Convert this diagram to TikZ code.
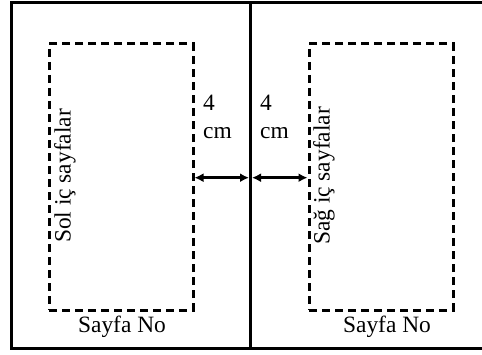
\documentclass[tikz,border=0pt]{standalone}
\usepackage{fontspec}
\setmainfont{Liberation Serif}
\usetikzlibrary{arrows.meta}
\begin{document}
\begin{tikzpicture}[x=1bp,y=1bp,
 lbl/.style={font=\fontsize{23.5}{28}\selectfont, inner sep=0pt},
 margin/.style={draw, line width=3bp, dash pattern=on 8bp off 5bp, minimum width=144bp, minimum height=266bp, inner sep=0pt},
 dim/.style={{Latex[length=9bp,width=9bp]}-{Latex[length=9bp,width=9bp]}, line width=2.6bp},
 page/.style={draw, line width=2.6bp, inner sep=0pt}]
\useasboundingbox (0,0) rectangle (482,354);
\node[page, minimum width=485bp, minimum height=346bp, anchor=south west] (P) at (10,4) {};
\coordinate (top) at (250.5,350);
\coordinate (bot) at (250.5,4);
\draw[line width=3.5bp] (top) -- (bot);
\node[margin] (L) at (121,177) {};
\node[margin] (R) at (381,177) {};
\coordinate (ml) at (249,176.3);
\coordinate (mr) at (252,176.3);
\draw[dim] (L.east |- ml) -- (ml);
\draw[dim] (mr) -- (R.west |- mr);
\node[lbl, anchor=base west] (l4) at (203,244) {4};
\node[lbl, anchor=base west] (lcm) at (203,216) {cm};
\node[lbl, anchor=base west] (r4) at (260,244) {4};
\node[lbl, anchor=base west] (rcm) at (260,216) {cm};
\node[lbl, rotate=90] (lt) at (65,178) {Sol iç sayfalar};
\node[lbl, rotate=90] (rt) at (324,178) {Sağ iç sayfalar};
\node[lbl, anchor=base] (lno) at (122,22) {Sayfa No};
\node[lbl, anchor=base] (rno) at (387,22) {Sayfa No};
\end{tikzpicture}
\end{document}
